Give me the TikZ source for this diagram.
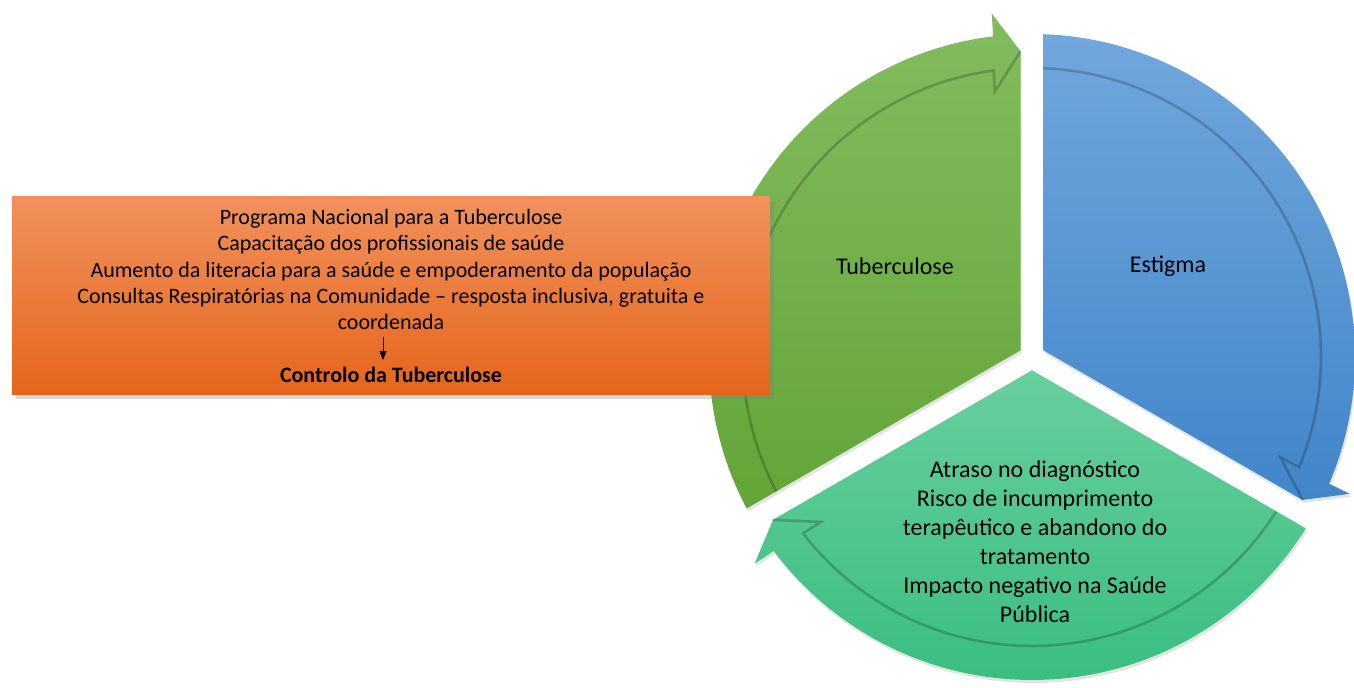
\documentclass[tikz,border=0pt]{standalone}
\usepackage{fontspec}
\setmainfont{Carlito}
\usetikzlibrary{arrows.meta,shadows,positioning}
\definecolor{greentop}{RGB}{131,188,95}
\definecolor{greenbot}{RGB}{99,165,55}
\definecolor{bluetop}{RGB}{113,167,221}
\definecolor{bluebot}{RGB}{64,134,201}
\definecolor{tealtop}{RGB}{104,207,158}
\definecolor{tealbot}{RGB}{57,190,128}
\definecolor{orangetop}{RGB}{241,145,92}
\definecolor{orangebot}{RGB}{229,101,26}
\begin{document}
\begin{tikzpicture}[x=0.5pt,y=0.5pt,
    segment/.style={drop shadow={shadow xshift=0.6pt,shadow yshift=-1.5pt,opacity=0.22}},
    bandline/.style={line width=1.3pt,black,opacity=0.2},
    segtext/.style={font=\fontsize{12}{14.5}\selectfont,align=center,text=black},
    boxtext/.style={font=\fontsize{11}{13.2}\selectfont,align=center,text=black},
    box/.style={top color=orangetop,bottom color=orangebot,minimum width=379pt,minimum height=99pt,
      drop shadow={shadow xshift=2pt,shadow yshift=-2pt,opacity=0.3}}]
  \useasboundingbox (0,0) rectangle (1354,688);
  % cycle of three segments
  \begin{scope}[shift={(1032,331)}]
    \foreach \o/\ca/\cb in {0/bluetop/bluebot,-120/tealtop/tealbot,120/greentop/greenbot}{
      \path[segment,top color=\ca,bottom color=\cb]
        ({\o+30}:13.28) -- ({\o+87.96}:323)
        arc[start angle={\o+87.96},end angle={\o-23.1},radius=323]
        -- ({\o-23.3}:346) -- ({\o-27.85}:306) -- cycle;
      \draw[bandline] ({\o+87.72}:289)
        arc[start angle={\o+87.72},end angle={\o-22.4},radius=289]
        -- ({\o-22}:268) -- ({\o-27.85}:306);
    }
  \end{scope}
  \node[segtext] (tb) at (895,422) {Tuberculose};
  \node[segtext] (est) at (1168,422) {Estigma};
  \node[segtext] (atraso) at (1035,146.5) {Atraso no diagnóstico\\Risco de incumprimento\\terapêutico e abandono do\\tratamento\\Impacto negativo na Saúde\\Pública};
  % box with the answers
  \node[box] (resp) at (391,392) {};
  \node[boxtext] (prog) at (391,418.5) {Programa Nacional para a Tuberculose\\Capacitação dos profissionais de saúde\\Aumento da literacia para a saúde e empoderamento da população\\Consultas Respiratórias na Comunidade – resposta inclusiva, gratuita e\\coordenada};
  \node[boxtext,font=\fontsize{11}{13.2}\selectfont\bfseries] (ctrl) at (391,313) {Controlo da Tuberculose};
  \draw[line width=0.4pt,-{Triangle[length=4.5pt,width=3.5pt]}] ([xshift=-4pt]prog.south) -- ([xshift=-4pt]ctrl.north);
\end{tikzpicture}
\end{document}
